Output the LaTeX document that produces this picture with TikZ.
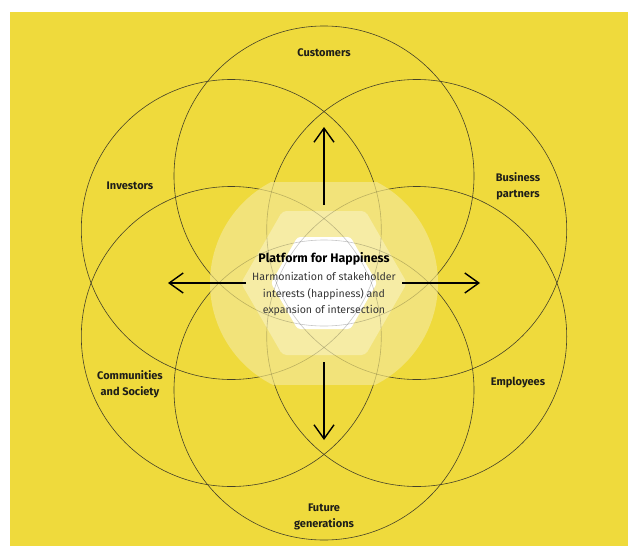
\documentclass[tikz,border=0pt]{standalone}
\usepackage{fontspec}
\setmainfont{Fira Sans}
\usetikzlibrary{arrows.meta}
\definecolor{bgyellow}{RGB}{239,218,60}
\definecolor{glowA}{RGB}{242,227,122}
\definecolor{glowB}{RGB}{246,236,165}
\definecolor{ringcol}{RGB}{70,66,40}
\definecolor{labcol}{RGB}{30,30,25}
\definecolor{bodycol}{RGB}{55,55,55}
\tikzset{
  ring/.style={draw=ringcol, line width=0.6pt},
  ringlight/.style={draw=black, draw opacity=0.22, line width=0.6pt},
  growarrow/.style={draw=black, line width=1.4pt, -{Straight Barb[length=14pt,width=20pt]}},
  lab/.style={font=\bfseries\fontsize{11}{16}\selectfont, text=labcol, align=center, inner sep=0pt},
  titletext/.style={font=\bfseries\fontsize{12.4}{14}\selectfont, text=black, inner sep=0pt},
  bodytext/.style={font=\fontsize{10.6}{16.5}\selectfont, text=bodycol, align=center, inner sep=0pt}
}
\begin{document}
\begin{tikzpicture}[x=1pt,y=-1pt]
\useasboundingbox (0,0) rectangle (628,546);
\fill[white] (0,0) rectangle (628,546);
\fill[bgyellow] (10,12) rectangle (628,546);

\coordinate (O) at (324,283);
\coordinate (ccu) at (324,176);
\coordinate (cfg) at (324,390);
\coordinate (cin) at (231.3,229.5);
\coordinate (cbp) at (416.7,229.5);
\coordinate (ccs) at (231.3,336.5);
\coordinate (cem) at (416.7,336.5);

% rings
\foreach \c in {ccu,cfg,cin,cbp,ccs,cem}
  \draw[ring] (\c) circle[radius=150];

% glow layers
\begin{scope}
  \clip (0,182) rectangle (628,384);
  \fill[glowA] (O) circle[radius=114];
\end{scope}
\fill[glowB, rounded corners=4] (241,283) -- (282.5,211) -- (365.5,211) -- (407,283) -- (365.5,355) -- (282.5,355) -- cycle;
\fill[white, rounded corners=3] (271,283) -- (297.5,237) -- (350.5,237) -- (377,283) -- (350.5,329) -- (297.5,329) -- cycle;

% rings seen through the glow
\begin{scope}
  \clip (0,182) rectangle (628,384);
  \clip (O) circle[radius=114];
  \foreach \c in {ccu,cfg,cin,cbp,ccs,cem}
    \draw[ringlight] (\c) circle[radius=150];
\end{scope}

% arrows
\coordinate (uS) at (324,205); \coordinate (uE) at (324,127);
\coordinate (dS) at (324,362); \coordinate (dE) at (324,440);
\coordinate (lS) at (246,283); \coordinate (lE) at (168,283);
\coordinate (rS) at (402,283); \coordinate (rE) at (480,283);
\draw[growarrow] (uS) -- (uE);
\draw[growarrow] (dS) -- (dE);
\draw[growarrow] (lS) -- (lE);
\draw[growarrow] (rS) -- (rE);

% center text
\node[titletext] (title) at (324,259) {Platform for Happiness};
\node[bodytext] (body) at (324,294) {Harmonization of stakeholder\\interests (happiness) and\\expansion of intersection};

% labels
\node[lab] (customers) at (324,53) {Customers};
\node[lab] (investors) at (130,186) {Investors};
\node[lab] (business) at (518,186) {Business\\partners};
\node[lab] (communities) at (130,384) {Communities\\and Society};
\node[lab] (employees) at (518,383) {Employees};
\node[lab] (future) at (324,517) {Future\\generations};
\end{tikzpicture}
\end{document}
